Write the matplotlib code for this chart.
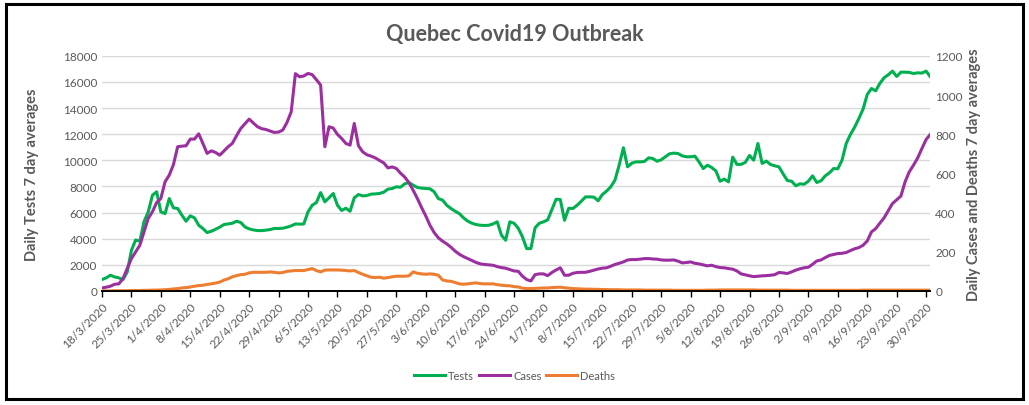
import matplotlib.pyplot as plt
from matplotlib.patches import Rectangle
import pandas as pd

START = '2020-03-18'
N_DAYS = 198

tests = [870, 1000, 1200, 1070, 1000, 870, 1450, 3100, 3900, 3800,
         5300, 6050, 7330, 7590, 6050, 5920, 7070, 6360, 6310, 5800,
         5340, 5750, 5590, 5030, 4780, 4470, 4570, 4720, 4880, 5080,
         5130, 5180, 5340, 5240, 4900, 4750, 4670, 4620, 4620, 4650,
         4700, 4780, 4780, 4800, 4880, 4980, 5130, 5110, 5130, 6050,
         6560, 6770, 7530, 6820, 7130, 7460, 6560, 6160, 6330, 6100,
         7130, 7380, 7280, 7300, 7410, 7430, 7460, 7560, 7790, 7840,
         7970, 7940, 8200, 8300, 8100, 7920, 7870, 7840, 7820, 7590,
         7070, 6950, 6560, 6310, 6100, 5920, 5590, 5340, 5180, 5080,
         5030, 5010, 5030, 5130, 5290, 4270, 3880, 5290, 5180, 4800,
         4140, 3240, 3240, 4830, 5180, 5290, 5440, 6230, 7020, 7000,
         5410, 6330, 6310, 6560, 6870, 7200, 7200, 7180, 6900, 7380,
         7640, 7970, 8480, 9630, 10960, 9500, 9780, 9880, 9880, 9910,
         10190, 10140, 9930, 10040, 10270, 10500, 10550, 10520, 10340, 10270,
         10270, 10320, 9880, 9370, 9630, 9450, 9190, 8400, 8560, 8350,
         10240, 9690, 9690, 9840, 10370, 10010, 11290, 9760, 9940, 9680,
         9580, 9500, 8960, 8450, 8400, 8050, 8200, 8170, 8400, 8810,
         8300, 8430, 8810, 9040, 9370, 9350, 10010, 11290, 11980, 12540,
         13200, 13920, 15040, 15500, 15320, 15890, 16320, 16550, 16830, 16420,
         16750, 16750, 16730, 16650, 16700, 16680, 16830, 16400]

cases = [15, 19, 24, 34, 36, 63, 114, 165, 199, 233,
         301, 370, 404, 451, 472, 557, 591, 645, 736, 739,
         741, 775, 775, 802, 753, 702, 715, 707, 693, 714,
         736, 753, 792, 829, 853, 877, 857, 838, 828, 824,
         816, 809, 811, 821, 860, 914, 1109, 1093, 1097, 1110,
         1104, 1078, 1051, 736, 838, 831, 799, 778, 753, 744,
         855, 741, 710, 695, 688, 679, 666, 654, 628, 633,
         625, 601, 581, 553, 514, 472, 426, 383, 335, 298,
         271, 254, 240, 223, 203, 187, 175, 165, 155, 145,
         138, 135, 133, 131, 124, 119, 116, 109, 102, 100,
         75, 58, 51, 83, 87, 87, 78, 94, 107, 118,
         80, 80, 90, 94, 95, 95, 100, 106, 112, 116,
         118, 126, 135, 141, 148, 158, 160, 160, 162, 165,
         165, 163, 162, 158, 157, 157, 158, 152, 143, 145,
         148, 141, 138, 133, 128, 131, 124, 119, 118, 114,
         111, 102, 87, 82, 77, 73, 75, 77, 78, 80,
         83, 94, 92, 89, 97, 106, 113, 118, 121, 136,
         153, 158, 170, 181, 186, 191, 192, 196, 206, 215,
         221, 233, 255, 301, 318, 346, 373, 410, 446, 465,
         484, 557, 608, 642, 679, 727, 773, 799]

deaths = [0, 0, 0, 1, 1, 1, 1, 2, 2, 2,
          3, 3, 4, 4, 5, 6, 8, 10, 12, 15,
          17, 20, 24, 27, 29, 33, 36, 40, 45, 55,
          62, 72, 78, 83, 85, 92, 95, 95, 95, 95,
          97, 95, 92, 94, 100, 102, 104, 104, 104, 109,
          114, 104, 97, 106, 107, 107, 107, 106, 104, 102,
          104, 94, 85, 77, 70, 68, 70, 65, 68, 72,
          75, 75, 75, 77, 97, 90, 87, 85, 87, 85,
          80, 56, 51, 49, 43, 36, 34, 36, 39, 41,
          37, 36, 36, 36, 32, 29, 27, 26, 22, 20,
          14, 12, 12, 13, 14, 15, 15, 17, 18, 19,
          16, 14, 12, 11, 10, 9, 9, 8, 8, 7,
          7, 6, 6, 6, 5, 5, 5, 5, 5, 4,
          4, 4, 4, 4, 4, 4, 3, 3, 3, 3,
          3, 3, 3, 3, 4, 4, 4, 5, 5, 5,
          5, 5, 5, 5, 5, 5, 4, 4, 4, 4,
          4, 4, 4, 4, 3, 3, 3, 3, 3, 3,
          3, 3, 3, 3, 3, 3, 3, 3, 3, 3,
          3, 4, 4, 4, 4, 4, 4, 4, 4, 4,
          4, 4, 4, 4, 4, 4, 4, 4]

dates = pd.date_range(START, periods=N_DAYS, freq='D')
tick_dates = pd.date_range(START, '2020-09-30', freq='7D')

GREY = '#595959'
C_TESTS = '#00b050'
C_CASES = '#9b2fa0'
C_DEATHS = '#ed7d31'

plt.rcParams['font.family'] = ['Lato', 'DejaVu Sans']

fig = plt.figure(figsize=(10.29, 4.06), dpi=100)
ax = fig.add_axes([0.0991, 0.281, 0.805, 0.579])
ax2 = ax.twinx()

l1, = ax.plot(dates, tests, color=C_TESTS, lw=2.2, label='Tests')
l2, = ax2.plot(dates, cases, color=C_CASES, lw=2.2, label='Cases')
l3, = ax2.plot(dates, deaths, color=C_DEATHS, lw=2.2, label='Deaths')

ax.set_ylim(0, 18000)
ax2.set_ylim(0, 1200)
ax.set_yticks(range(0, 18001, 2000))
ax2.set_yticks(range(0, 1201, 200))
ax.set_xlim(dates[0], dates[-1])

ax.grid(axis='y', color='#d9d9d9', lw=1)
ax.set_axisbelow(True)
for a in (ax, ax2):
    for s in ('top', 'left', 'right'):
        a.spines[s].set_visible(False)
    a.spines['bottom'].set_color('black')
    a.spines['bottom'].set_linewidth(1.3)
    a.tick_params(axis='y', length=0, labelsize=8.5, labelcolor=GREY)

ax.set_xticks(tick_dates)
ax.set_xticklabels([f'{d.day}/{d.month}/{d.year}' for d in tick_dates],
                   rotation=45, ha='right', rotation_mode='anchor')
ax.tick_params(axis='x', direction='out', length=4, width=1, color='black',
               labelsize=8.5, labelcolor=GREY, pad=3)

ax.set_ylabel('Daily Tests 7 day averages', color=GREY, fontsize=10.5,
              fontweight='bold', labelpad=17)
ax2.set_ylabel('Daily Cases and Deaths 7 day averages', color=GREY,
               fontsize=10.5, fontweight='bold', labelpad=3)

fig.suptitle('Quebec Covid19 Outbreak', x=0.5, y=0.94, color=GREY,
             fontsize=15.5, fontweight='bold')

fig.legend(handles=[l1, l2, l3], loc='center', bbox_to_anchor=(0.5, 0.072),
           ncol=3, frameon=False, fontsize=8, labelcolor=GREY,
           handlelength=2.8, columnspacing=0.4, handletextpad=0.3)

fig.patches.append(Rectangle((0.006, 0.015), 0.988, 0.972, transform=fig.transFigure,
                             fill=False, edgecolor='black', lw=2.2))

fig.savefig('out.png', dpi=100)
